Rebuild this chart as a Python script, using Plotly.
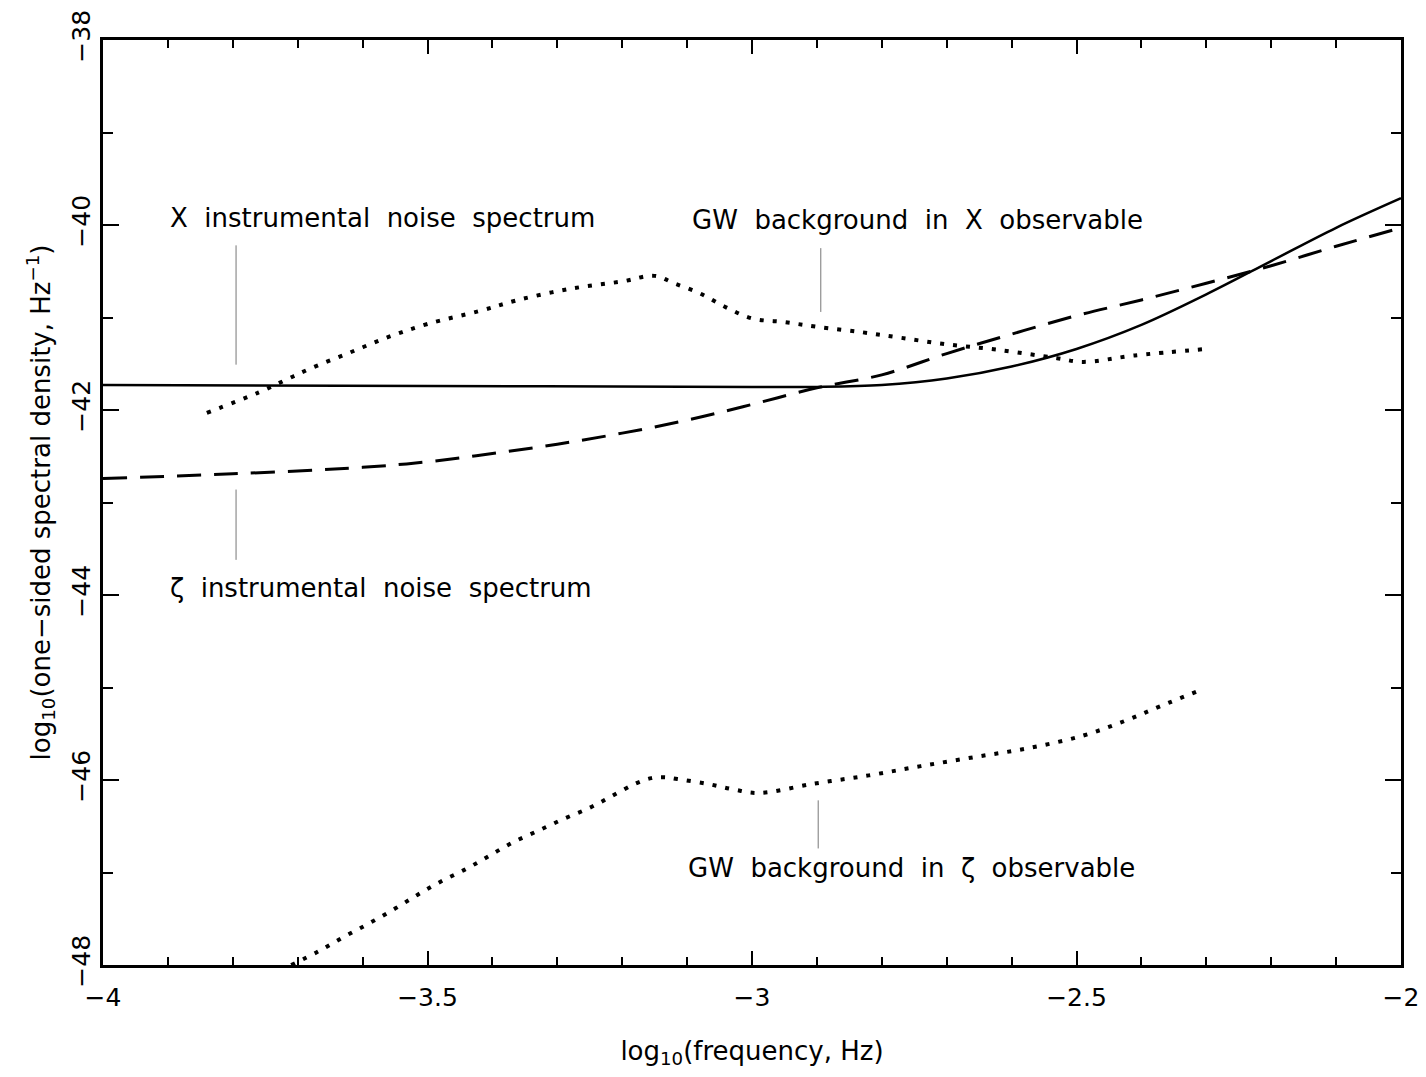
import plotly.graph_objects as go

# ---------------- data (log10 frequency, log10 one-sided spectral density) ----------------
x_noise_x = [-4.0, -3.5, -3.0, -2.9, -2.8, -2.7, -2.6, -2.5, -2.4, -2.3, -2.2, -2.1, -2.0]
x_noise_y = [-41.73, -41.74, -41.75, -41.75, -41.73, -41.66, -41.53, -41.34, -41.08, -40.75, -40.39, -40.03, -39.71]

zeta_noise_x = [-4.0, -3.8, -3.6, -3.5, -3.4, -3.3, -3.2, -3.1, -3.0, -2.9, -2.8, -2.7, -2.6, -2.5, -2.4, -2.3, -2.2, -2.1, -2.0]
zeta_noise_y = [-42.74, -42.69, -42.62, -42.56, -42.47, -42.37, -42.25, -42.11, -41.94, -41.76, -41.62, -41.39,
                -41.18, -40.98, -40.81, -40.63, -40.44, -40.23, -40.03]

gw_x_x = [-3.84, -3.76, -3.72, -3.68, -3.62, -3.56, -3.5, -3.42, -3.36, -3.28, -3.2, -3.15, -3.12, -3.08,
          -3.04, -3.0, -2.95, -2.9, -2.83, -2.77, -2.7, -2.62, -2.53, -2.49, -2.41, -2.3]
gw_x_y = [-42.03, -41.81, -41.68, -41.55, -41.38, -41.21, -41.07, -40.93, -40.81, -40.69, -40.61, -40.55,
          -40.63, -40.74, -40.89, -41.01, -41.05, -41.10, -41.16, -41.22, -41.29, -41.35, -41.44, -41.48,
          -41.41, -41.34]

gw_zeta_x = [-3.71, -3.67, -3.63, -3.59, -3.55, -3.515, -3.48, -3.44, -3.405, -3.37, -3.33, -3.29, -3.25,
             -3.215, -3.18, -3.155, -3.135, -3.115, -3.07, -3.03, -2.99, -2.905, -2.82, -2.74, -2.655,
             -2.57, -2.49, -2.425, -2.37, -2.31]
gw_zeta_y = [-48.0, -47.86, -47.70, -47.55, -47.39, -47.24, -47.10, -46.96, -46.82, -46.68, -46.55, -46.42,
             -46.30, -46.17, -46.04, -45.98, -45.97, -45.99, -46.04, -46.10, -46.14, -46.04, -45.95, -45.85,
             -45.75, -45.65, -45.52, -45.36, -45.20, -45.03]

# axis ticks
x_tickvals = [-4, -3.5, -3, -2.5, -2]
x_ticktext = ["\u22124", "\u22123.5", "\u22123", "\u22122.5", "\u22122"]
y_tickvals = [-48, -46, -44, -42, -40, -38]
y_ticktext = ["\u221248", "\u221246", "\u221244", "\u221242", "\u221240", "\u221238"]

# curve labels: text, left x, y, pointer-line x, pointer-line y0, y1
label_texts = ["X  instrumental  noise  spectrum", "GW  background  in  X  observable",
               "\u03b6  instrumental  noise  spectrum", "GW  background  in  \u03b6  observable"]
label_x = [-3.9, -3.095, -3.9, -3.102]
label_y = [-39.92, -39.95, -43.92, -46.95]
pointer_x = [-3.795, -2.894, -3.795, -2.898]
pointer_y0 = [-40.22, -40.25, -42.86, -46.22]
pointer_y1 = [-41.51, -40.94, -43.62, -46.74]

FONT = "DejaVu Sans"

fig = go.Figure()

fig.add_trace(go.Scatter(x=x_noise_x, y=x_noise_y, mode="lines", line=dict(color="black", width=2.5, shape="spline"),
                         name="X instrumental noise"))
fig.add_trace(go.Scatter(x=zeta_noise_x, y=zeta_noise_y, mode="lines",
                         line=dict(color="black", width=3, dash="24px,13px", shape="spline"),
                         name="zeta instrumental noise"))
fig.add_trace(go.Scatter(x=gw_x_x, y=gw_x_y, mode="lines",
                         line=dict(color="black", width=4, dash="4px,9px", shape="spline"),
                         name="GW in X"))
fig.add_trace(go.Scatter(x=gw_zeta_x, y=gw_zeta_y, mode="lines",
                         line=dict(color="black", width=4, dash="4px,9px", shape="spline"),
                         name="GW in zeta"))

for px, y0, y1 in zip(pointer_x, pointer_y0, pointer_y1):
    fig.add_trace(go.Scatter(x=[px, px], y=[y0, y1], mode="lines",
                             line=dict(color="#777777", width=1), hoverinfo="skip"))

for t, lx, ly in zip(label_texts, label_x, label_y):
    fig.add_annotation(x=lx, y=ly, text=t, showarrow=False, xanchor="left", yanchor="middle",
                       font=dict(family=FONT, size=26, color="black"))

axis_common = dict(showline=True, linecolor="black", linewidth=2.5, mirror="ticks", ticks="inside",
                   tickcolor="black", showgrid=False, zeroline=False, automargin=False,
                   ticklabeloverflow="allow",
                   tickfont=dict(family=FONT, size=25, color="black"))

fig.update_xaxes(range=[-4, -2], tickvals=x_tickvals, ticktext=x_ticktext, ticklen=14, tickwidth=1.5,
                 minor=dict(dtick=0.1, tick0=-4, ticks="inside", ticklen=8, tickwidth=1.5, tickcolor="black",
                            showgrid=False),
                 title=dict(text="log<sub>10</sub>(frequency, Hz)", font=dict(family=FONT, size=26, color="black"),
                            standoff=32),
                 ticklabelstandoff=8,
                 **axis_common)
fig.update_yaxes(range=[-48, -38], tickvals=y_tickvals, ticktext=y_ticktext, ticklen=16, tickwidth=1.5,
                 tickangle=-90,
                 minor=dict(dtick=1, tick0=-48, ticks="inside", ticklen=10, tickwidth=1.5, tickcolor="black",
                            showgrid=False),
                 title=dict(text="log<sub>10</sub>(one\u2212sided spectral density, Hz<sup>\u22121</sup>)",
                            font=dict(family=FONT, size=26, color="black"), standoff=10),
                 ticklabelstandoff=0,
                 **axis_common)

# page body has a default 8px margin, so margins are offset to place the plot frame as in the reference
fig.update_layout(width=1410, height=1061, showlegend=False, plot_bgcolor="white", paper_bgcolor="white",
                  margin=dict(l=95, r=17, t=32, b=104), font=dict(family=FONT, color="black"))

fig.write_html("out.html")
